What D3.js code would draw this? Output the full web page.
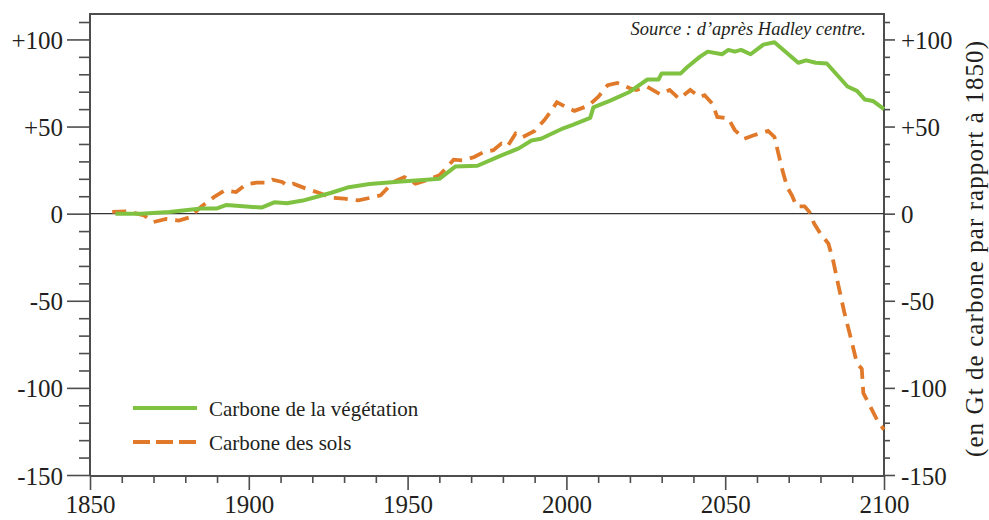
<!DOCTYPE html>
<html lang="fr">
<head>
<meta charset="utf-8">
<title>Carbone de la végétation et des sols</title>
<script src="https://d3js.org/d3.v7.min.js"></script>
<style>
  * { margin: 0; padding: 0; }
  body { background: #fff; }
  svg text { font-family: 'Liberation Serif', 'Times New Roman', serif; fill: #231f20; }
</style>
</head>
<body>
<div id="chart"></div>
<script>
// Carbone de la végétation (Gt C, par rapport à 1850)
var vegYears = [1858, 1866, 1875, 1885, 1890, 1893, 1904, 1908, 1912, 1917, 1922, 1926, 1931, 1938, 1948, 1956, 1960, 1965, 1972, 1979, 1985, 1989, 1992, 1999, 2002, 2007.5, 2008.5, 2014, 2020, 2025.5, 2029, 2030, 2036, 2038, 2042, 2044.5, 2049, 2051, 2053, 2055, 2058, 2062, 2065.5, 2073, 2075.5, 2078.5, 2082, 2088.5, 2091.5, 2094, 2096.5, 2100];
var vegValues = [0, 0, 1, 3, 3, 5, 3.5, 6.5, 6, 7.5, 10, 12, 15, 17, 18.5, 19.5, 20, 27, 27.5, 33, 37.5, 42, 43, 49, 51, 55, 61, 65, 70, 77, 77, 80.5, 80.5, 84, 90, 93, 91.5, 94, 93, 94, 91.5, 97, 98.4, 86.6, 88, 86.6, 86.2, 73, 70.5, 65.5, 64.7, 60];

// Carbone des sols
var solYears = [1857, 1862, 1867, 1870, 1874, 1878, 1881.5, 1885, 1889, 1892.5, 1896, 1899, 1902.5, 1905.5, 1907.5, 1910.5, 1912, 1914, 1918, 1922, 1926, 1930, 1934.5, 1938, 1941.5, 1945.5, 1949, 1952.5, 1956.5, 1960, 1962.5, 1964.5, 1967.5, 1971, 1974, 1977, 1979.5, 1981.5, 1984, 1986, 1990, 1993, 1995, 1997, 2000, 2002.5, 2007, 2010, 2013, 2016, 2020, 2022, 2025.5, 2029.5, 2032.5, 2035.5, 2039, 2042, 2043.5, 2046, 2047.5, 2051, 2053, 2056, 2059, 2063.5, 2065.5, 2066.5, 2068, 2069.5, 2071, 2072.5, 2075, 2076.5, 2078, 2080, 2082.5, 2084, 2085.5, 2087.5, 2089.5, 2091.5, 2093, 2093.5, 2095.5, 2098, 2100];
var solValues = [1, 1.3, -1, -4.8, -3, -4, -2, 4, 9.5, 13.4, 12.4, 16.7, 17.8, 17.8, 19.5, 18.2, 16.3, 17.2, 14.4, 12, 9.2, 8.6, 7.6, 9, 10.5, 18.2, 21, 17.2, 19.5, 22, 26.8, 31, 30.6, 32.5, 35.4, 36.4, 40.2, 38.7, 46, 43.7, 47.5, 53.6, 58.4, 64, 61, 59, 62, 67, 73.7, 75, 72, 71, 72.8, 68.6, 71, 66, 71, 67, 68, 63, 55.5, 54.6, 48, 43, 45, 47.5, 44, 36.4, 25, 15.3, 10.5, 4.2, 4.2, 1, -5.7, -11.5, -17.2, -27, -40, -56.6, -71, -86, -89, -103, -110, -119, -124];

var yMajor = [100, 50, 0, -50, -100, -150];
var yLabels = ["+100", "+50", "0", "-50", "-100", "-150"];
var xMajor = [1850, 1900, 1950, 2000, 2050, 2100];

var width = 989, height = 520;
var mLeft = 90, mRight = 884, mTop = 14, mBottom = 475;
var axisColor = "#4d4d4d";
var green = "#7fc241", orange = "#e07a2a";

var svg = d3.select("#chart").append("svg")
    .attr("width", width)
    .attr("height", height);

var x = d3.scaleLinear().domain([1850, 2100]).range([mLeft, mRight]);
var y = d3.scaleLinear().domain([-150, 114.6]).range([mBottom, mTop]);

var yMinor = d3.range(-150, 111, 10).filter(function (d) { return d % 50 !== 0; });
var xMinor = d3.range(1850, 2101, 10).filter(function (d) { return d % 50 !== 0; });

function styleAxis(g) {
    g.select(".domain").remove();
    g.selectAll("line").attr("stroke", axisColor).attr("stroke-width", 1.6);
}

// left axis
svg.append("g").attr("transform", "translate(" + mLeft + ",0)")
    .call(d3.axisLeft(y).tickValues(yMinor).tickSize(11).tickFormat(""))
    .call(styleAxis);
svg.append("g").attr("transform", "translate(" + mLeft + ",0)")
    .call(d3.axisLeft(y).tickValues(yMajor).tickSize(23).tickPadding(4)
        .tickFormat(function (d, i) { return yLabels[i]; }))
    .call(styleAxis)
    .selectAll("text").style("font-size", "25px").attr("dy", "0.36em");

// right axis
svg.append("g").attr("transform", "translate(" + mRight + ",0)")
    .call(d3.axisRight(y).tickValues(yMinor).tickSize(6).tickFormat(""))
    .call(styleAxis);
svg.append("g").attr("transform", "translate(" + mRight + ",0)")
    .call(d3.axisRight(y).tickValues(yMajor).tickSize(11).tickPadding(6)
        .tickFormat(function (d, i) { return yLabels[i]; }))
    .call(styleAxis)
    .selectAll("text").style("font-size", "25px").attr("dy", "0.36em");

// bottom axis
svg.append("g").attr("transform", "translate(0," + (mBottom + 1) + ")")
    .call(d3.axisBottom(x).tickValues(xMinor).tickSize(7).tickFormat(""))
    .call(styleAxis);
svg.append("g").attr("transform", "translate(0," + (mBottom + 1) + ")")
    .call(d3.axisBottom(x).tickValues(xMajor).tickSize(14).tickPadding(5).tickFormat(d3.format("d")))
    .call(styleAxis)
    .selectAll("text").style("font-size", "25px");

// frame
svg.append("path")
    .attr("d", "M" + mLeft + "," + (mBottom + 1) + "V" + mTop + "H" + mRight + "V" + (mBottom + 1) + "H" + mLeft)
    .attr("fill", "none")
    .attr("stroke", axisColor)
    .attr("stroke-width", 2);

// zero line
svg.append("line")
    .attr("x1", mLeft).attr("x2", mRight)
    .attr("y1", y(0)).attr("y2", y(0))
    .attr("stroke", "#333")
    .attr("stroke-width", 1.3);

var line = d3.line()
    .x(function (d) { return x(d[0]); })
    .y(function (d) { return y(d[1]); });

svg.append("path")
    .datum(solYears.map(function (yr, i) { return [yr, solValues[i]]; }))
    .attr("d", line)
    .attr("fill", "none")
    .attr("stroke", orange)
    .attr("stroke-width", 3.8)
    .attr("stroke-dasharray", "14,8");

svg.append("path")
    .datum(vegYears.map(function (yr, i) { return [yr, vegValues[i]]; }))
    .attr("d", line)
    .attr("fill", "none")
    .attr("stroke", green)
    .attr("stroke-width", 4)
    .attr("stroke-linejoin", "round");

// source
svg.append("text")
    .attr("x", 866).attr("y", 35)
    .attr("text-anchor", "end")
    .style("font-size", "18.5px")
    .style("font-style", "italic")
    .text("Source : d\u2019après Hadley centre.");

// right title
svg.append("text")
    .attr("transform", "translate(983,249) rotate(-90)")
    .attr("text-anchor", "middle")
    .attr("textLength", 416)
    .attr("lengthAdjust", "spacing")
    .style("font-size", "25px")
    .text("(en Gt de carbone par rapport à 1850)");

// legend
var legend = [
    { label: "Carbone de la végétation", color: green, dash: null, w: 4, y: 408 },
    { label: "Carbone des sols", color: orange, dash: "17,6", w: 3.8, y: 442 }
];
legend.forEach(function (l) {
    svg.append("line")
        .attr("x1", 133).attr("x2", 197)
        .attr("y1", l.y).attr("y2", l.y)
        .attr("stroke", l.color)
        .attr("stroke-width", l.w)
        .attr("stroke-dasharray", l.dash);
    svg.append("text")
        .attr("x", 209).attr("y", l.y + 8)
        .style("font-size", "21px")
        .text(l.label);
});
</script>
</body>
</html>
